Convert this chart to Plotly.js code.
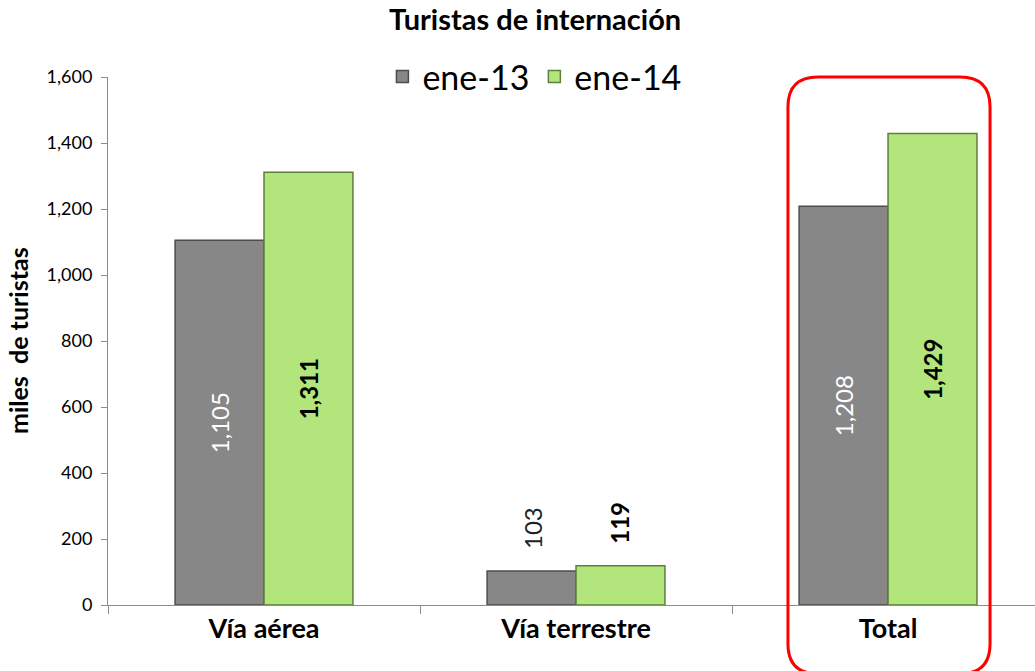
<!DOCTYPE html>
<html>
<head>
<meta charset="utf-8">
<script src="https://cdn.plot.ly/plotly-3.0.1.min.js"></script>
<style>html,body{margin:0;padding:0;background:#fff;}#chart{width:1035px;height:671px;}</style>
</head>
<body>
<div id="chart"></div>
<script>
const categories = ["Vía aérea", "Vía terrestre", "Total"];
const seriesNames = ["ene-13", "ene-14"];
const ene13 = [1105, 103, 1208];
const ene14 = [1311, 119, 1429];
const yTicks = [0, 200, 400, 600, 800, 1000, 1200, 1400, 1600];
const yTitle = "miles  de turistas";

const FONT = "Lato, 'Open Sans', sans-serif";
const OUTSIDE_BELOW = 300;  // small bars get their label above the bar
const fmt = v => v.toLocaleString("en-US");

function barTrace(name, vals, color, lineColor, bold, insideColor) {
  return {
    type: "bar", name: name, x: categories, y: vals,
    marker: {color: color, line: {color: lineColor, width: 1.5}},
    text: vals.map(v => bold ? "<b>" + fmt(v) + "</b>" : fmt(v)),
    textposition: vals.map(v => v < OUTSIDE_BELOW ? "none" : "inside"),
    textangle: -90, insidetextanchor: "middle",
    insidetextfont: {color: insideColor, size: 24, family: FONT},
    constraintext: "none", cliponaxis: false, hoverinfo: "skip"
  };
}
const traceGray = barTrace(seriesNames[0], ene13, "#878787", "#4d4d4d", false, "#ffffff");
const traceGreen = barTrace(seriesNames[1], ene14, "#b2e67c", "#5f7f3a", true, "#000000");

// labels above the small bars
const annotations = [];
[[ene13, -44, false, "#222222"], [ene14, 44, true, "#000000"]].forEach(([vals, dx, bold, col]) => {
  vals.forEach((v, i) => {
    if (v < OUTSIDE_BELOW) {
      annotations.push({x: categories[i], y: v, xref: "x", yref: "y", xshift: dx, yshift: 20,
        text: bold ? "<b>" + fmt(v) + "</b>" : fmt(v), textangle: -90, showarrow: false,
        yanchor: "bottom", xanchor: "center", font: {size: 24, family: FONT, color: col}});
    }
  });
});
// y axis title
annotations.push({x: 0, y: 0.5, xref: "paper", yref: "paper", xshift: -90, textangle: -90,
  text: "<b>" + yTitle + "</b>", showarrow: false, xanchor: "center", yanchor: "middle",
  font: {size: 25, family: FONT, color: "#000"}});

// rounded rectangle highlight around "Total" (paper coordinates)
const W = 927, H = 528;
const x0 = 0.7335, x1 = 0.9515, y0 = -0.13, y1 = 1.0;
const rx = 30 / W, ry = 30 / H;
const path = `M ${x0 + rx} ${y1} L ${x1 - rx} ${y1} Q ${x1} ${y1} ${x1} ${y1 - ry} ` +
  `L ${x1} ${y0 + ry} Q ${x1} ${y0} ${x1 - rx} ${y0} L ${x0 + rx} ${y0} ` +
  `Q ${x0} ${y0} ${x0} ${y0 + ry} L ${x0} ${y1 - ry} Q ${x0} ${y1} ${x0 + rx} ${y1} Z`;

const layout = {
  width: 1035, height: 671,
  margin: {l: 108, r: 0, t: 77, b: 66},
  paper_bgcolor: "#ffffff", plot_bgcolor: "#ffffff",
  font: {family: FONT, color: "#000"},
  separators: ".,",
  title: {text: "<b>Turistas de internación</b>", font: {size: 29, family: FONT, color: "#000"},
          x: 0.517, xanchor: "center", y: 0.97, yanchor: "middle"},
  barmode: "group", bargap: 0.43, bargroupgap: 0,
  showlegend: true,
  legend: {orientation: "h", x: 0.46, xanchor: "center", y: 1.0, yanchor: "middle",
           font: {size: 34, family: FONT, color: "#000"}, bgcolor: "rgba(0,0,0,0)",
           tracegroupgap: 0},
  xaxis: {
    type: "category", range: [-0.5, 2.471], showgrid: false, zeroline: false,
    showline: true, linecolor: "#8c8c8c", linewidth: 1,
    ticks: "outside", tickson: "boundaries", ticklen: 8, tickcolor: "#8c8c8c",
    tickfont: {size: 27, family: FONT, color: "#000"},
    tickprefix: "<b>", ticksuffix: "</b>", fixedrange: true
  },
  yaxis: {
    range: [0, 1600], tickvals: yTicks, tickformat: ",d",
    showgrid: false, zeroline: false,
    showline: true, linecolor: "#8c8c8c", linewidth: 1,
    ticks: "outside", ticklen: 6, tickcolor: "#8c8c8c", ticklabelstandoff: 5,
    tickfont: {size: 18, family: FONT, color: "#000"},
    fixedrange: true
  },
  annotations: annotations,
  shapes: [{type: "path", xref: "paper", yref: "paper", path: path,
            line: {color: "#ff0000", width: 3}, fillcolor: "rgba(0,0,0,0)", layer: "above"}]
};

Plotly.newPlot("chart", [traceGray, traceGreen], layout, {displayModeBar: false, staticPlot: true});
</script>
</body>
</html>
